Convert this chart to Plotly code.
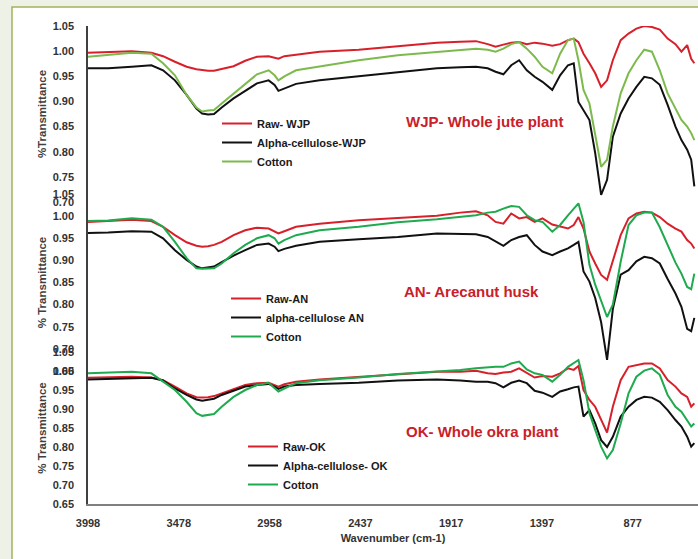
import plotly.graph_objects as go

# ---------------- data ----------------
wavenumber = [3998, 3882, 3747, 3635, 3568, 3500, 3433, 3377, 3344, 3310,
              3276, 3232, 3164, 3097, 3030, 2963, 2929, 2907, 2873, 2806,
              2671, 2447, 2223, 1999, 1865, 1775, 1708, 1663, 1618, 1573,
              1528, 1484, 1439, 1394, 1338, 1293, 1248, 1215, 1188, 1159,
              1125, 1092, 1058, 1024, 991, 946, 901, 856, 811, 767,
              722, 677, 632, 598, 565, 542, 524]

# Panel 1 - WJP (whole jute plant)
raw_wjp = [0.997, 0.999, 1.000, 0.997, 0.990, 0.979, 0.969, 0.964, 0.962, 0.961,
           0.961, 0.964, 0.970, 0.981, 0.989, 0.990, 0.987, 0.985, 0.990, 0.993,
           0.999, 1.003, 1.010, 1.017, 1.019, 1.020, 1.014, 1.009, 1.013, 1.017,
           1.018, 1.014, 1.017, 1.015, 1.011, 1.014, 1.022, 1.025, 1.018, 0.995,
           0.976, 0.956, 0.929, 0.942, 0.982, 1.022, 1.035, 1.045, 1.050, 1.048,
           1.043, 1.025, 1.014, 0.999, 1.012, 0.985, 0.976]
alpha_wjp = [0.966, 0.966, 0.969, 0.972, 0.962, 0.942, 0.913, 0.886, 0.876, 0.874,
             0.875, 0.888, 0.906, 0.921, 0.936, 0.942, 0.933, 0.921, 0.926, 0.935,
             0.942, 0.950, 0.959, 0.966, 0.968, 0.969, 0.966, 0.959, 0.954, 0.972,
             0.982, 0.962, 0.949, 0.939, 0.923, 0.952, 0.972, 0.976, 0.899, 0.883,
             0.863, 0.797, 0.714, 0.744, 0.830, 0.876, 0.906, 0.929, 0.949, 0.946,
             0.933, 0.893, 0.850, 0.823, 0.804, 0.784, 0.731]
cotton_wjp = [0.989, 0.993, 0.997, 0.995, 0.976, 0.952, 0.913, 0.888, 0.880, 0.882,
              0.883, 0.896, 0.916, 0.936, 0.954, 0.962, 0.952, 0.942, 0.950, 0.962,
              0.970, 0.982, 0.992, 0.999, 1.003, 1.005, 1.003, 0.999, 1.005, 1.014,
              1.018, 1.005, 0.989, 0.969, 0.956, 0.995, 1.022, 1.025, 0.982, 0.923,
              0.896, 0.830, 0.770, 0.784, 0.850, 0.916, 0.956, 0.982, 1.003, 0.999,
              0.962, 0.916, 0.886, 0.863, 0.850, 0.837, 0.823]

# Panel 2 - AN (arecanut husk)
raw_an = [0.987, 0.989, 0.992, 0.989, 0.976, 0.957, 0.941, 0.933, 0.931, 0.932,
          0.935, 0.942, 0.957, 0.968, 0.974, 0.972, 0.966, 0.961, 0.966, 0.976,
          0.983, 0.991, 0.996, 1.001, 1.008, 1.011, 1.002, 0.987, 0.983, 1.006,
          0.995, 0.998, 0.987, 0.995, 0.981, 0.976, 0.972, 0.980, 0.998, 0.972,
          0.920, 0.893, 0.867, 0.856, 0.897, 0.957, 0.995, 1.006, 1.010, 1.008,
          0.998, 0.983, 0.972, 0.965, 0.946, 0.938, 0.927]
alpha_an = [0.962, 0.963, 0.966, 0.965, 0.950, 0.923, 0.901, 0.886, 0.882, 0.884,
            0.886, 0.896, 0.911, 0.923, 0.935, 0.938, 0.931, 0.921, 0.926, 0.933,
            0.942, 0.948, 0.953, 0.961, 0.959, 0.959, 0.953, 0.942, 0.933, 0.946,
            0.953, 0.957, 0.935, 0.920, 0.912, 0.920, 0.927, 0.935, 0.942, 0.875,
            0.852, 0.815, 0.760, 0.675, 0.790, 0.868, 0.878, 0.898, 0.908, 0.905,
            0.893, 0.858, 0.825, 0.795, 0.745, 0.740, 0.770]
cotton_an = [0.989, 0.990, 0.995, 0.992, 0.976, 0.942, 0.905, 0.882, 0.881, 0.882,
             0.882, 0.893, 0.916, 0.935, 0.950, 0.957, 0.950, 0.938, 0.946, 0.957,
             0.968, 0.976, 0.986, 0.993, 0.998, 1.002, 1.008, 1.010, 1.017, 1.023,
             1.021, 1.002, 0.991, 0.987, 0.965, 0.980, 1.002, 1.017, 1.029, 0.987,
             0.890, 0.845, 0.807, 0.772, 0.800, 0.897, 0.980, 1.002, 1.008, 1.008,
             0.975, 0.935, 0.895, 0.870, 0.840, 0.835, 0.870]

# Panel 3 - OK (whole okra plant)
raw_ok = [0.982, 0.983, 0.985, 0.983, 0.976, 0.959, 0.941, 0.931, 0.930, 0.931,
          0.934, 0.941, 0.952, 0.963, 0.968, 0.969, 0.963, 0.959, 0.965, 0.972,
          0.978, 0.985, 0.992, 0.998, 0.998, 1.001, 0.994, 0.992, 0.996, 0.998,
          1.007, 0.994, 0.983, 0.987, 0.985, 0.994, 1.007, 1.003, 1.013, 0.950,
          0.924, 0.906, 0.871, 0.838, 0.906, 0.976, 1.011, 1.016, 1.020, 1.020,
          1.007, 0.976, 0.959, 0.941, 0.932, 0.906, 0.915]
alpha_ok = [0.978, 0.979, 0.982, 0.982, 0.975, 0.954, 0.937, 0.925, 0.922, 0.924,
            0.927, 0.937, 0.948, 0.959, 0.963, 0.966, 0.959, 0.953, 0.959, 0.963,
            0.966, 0.969, 0.975, 0.978, 0.975, 0.972, 0.972, 0.968, 0.957, 0.969,
            0.975, 0.968, 0.948, 0.943, 0.932, 0.946, 0.952, 0.957, 0.959, 0.880,
            0.897, 0.862, 0.818, 0.800, 0.827, 0.880, 0.906, 0.924, 0.932, 0.930,
            0.919, 0.897, 0.871, 0.854, 0.827, 0.801, 0.810]
cotton_ok = [0.994, 0.996, 0.998, 0.994, 0.972, 0.950, 0.919, 0.889, 0.882, 0.884,
             0.887, 0.906, 0.932, 0.950, 0.963, 0.969, 0.954, 0.946, 0.954, 0.968,
             0.976, 0.983, 0.992, 0.998, 1.003, 1.007, 1.010, 1.011, 1.011, 1.020,
             1.025, 1.004, 0.994, 0.990, 0.972, 0.990, 1.011, 1.022, 1.029, 0.976,
             0.889, 0.845, 0.801, 0.770, 0.792, 0.862, 0.941, 0.985, 1.001, 1.007,
             0.990, 0.937, 0.906, 0.893, 0.871, 0.854, 0.862]

x_tick_values = [3998, 3478, 2958, 2437, 1917, 1397, 877]
x_tick_labels = ["3998", "3478", "2958", "2437", "1917", "1397", "877"]

panel_titles = ["WJP- Whole jute plant", "AN- Arecanut husk", "OK- Whole okra plant"]
y_titles = ["%Transmittance", "% Transmittance", "% Transmittance"]
series_names = [["Raw- WJP", "Alpha-cellulose-WJP", "Cotton"],
                ["Raw-AN", "alpha-cellulose AN", "Cotton"],
                ["Raw-OK", "Alpha-cellulose- OK", "Cotton"]]
series_values = [[raw_wjp, alpha_wjp, cotton_wjp],
                 [raw_an, alpha_an, cotton_an],
                 [raw_ok, alpha_ok, cotton_ok]]

# ---------------- styling ----------------
W, H = 698, 559
FONT = "Liberation Sans, Arial, sans-serif"
BG = "#eef2e6"
RED = "#d7202a"
BLACK = "#111111"
GREEN_LIGHT = "#7dba4c"
GREEN = "#1faa4f"
series_colors = [[RED, BLACK, GREEN_LIGHT], [RED, BLACK, GREEN], [RED, BLACK, GREEN]]

def px_x(x):
    return x / W

def px_y(y):
    return (H - y) / H

y_axis_ids = ["y", "y2", "y3"]
legend_ids = ["legend", "legend2", "legend3"]
y_domains = [[px_y(202), px_y(26)], [px_y(371), px_y(194)], [px_y(504), px_y(352)]]
y_ranges = [[0.6999, 1.0501], [0.6499, 1.0501], [0.6499, 1.0501]]
legend_pos = [(217, 109), (226, 284), (243, 432)]
note_pos = [(404, 122), (402, 291), (404, 431)]

fig = go.Figure()
for p in range(3):
    for s in range(3):
        fig.add_trace(go.Scatter(
            x=wavenumber, y=series_values[p][s], mode="lines",
            name=series_names[p][s], yaxis=y_axis_ids[p], xaxis="x",
            line=dict(color=series_colors[p][s], width=2),
            legend=legend_ids[p], showlegend=True))

layout = dict(
    width=W, height=H,
    margin=dict(l=0, r=0, t=0, b=0, autoexpand=False),
    paper_bgcolor=BG,
    plot_bgcolor="rgba(0,0,0,0)",
    font=dict(family=FONT, color="#333333"),
    xaxis=dict(domain=[px_x(88), 1.0], range=[3998, 503], anchor="y3",
               automargin=False,
               tickmode="array", tickvals=x_tick_values, ticktext=x_tick_labels,
               showline=True, linecolor="#808080", linewidth=2,
               showgrid=False, zeroline=False,
               ticks="outside", ticklen=8, tickcolor="rgba(0,0,0,0)",
               tickfont=dict(size=11, family=FONT, color="#333333", weight="bold"),
               title=dict(text="Wavenumber (cm-1)", standoff=6,
                          font=dict(size=11, family=FONT, color="#333333", weight="bold"))),
    shapes=[dict(type="rect", xref="paper", yref="paper",
                 x0=px_x(12), x1=1.05, y0=-0.05, y1=px_y(7),
                 fillcolor="white", line=dict(color="#a3b35a", width=1.5),
                 layer="below")],
    annotations=[],
)

for p in range(3):
    key = "yaxis" if p == 0 else "yaxis%d" % (p + 1)
    layout[key] = dict(
        domain=y_domains[p], range=y_ranges[p], anchor="x",
        automargin=False,
        tickmode="linear", tick0=0.65, dtick=0.05, tickformat=".2f",
        showline=True, linecolor="#404040", linewidth=1.5,
        showgrid=False, zeroline=False,
        ticks="outside", ticklen=10, tickcolor="rgba(0,0,0,0)",
        tickfont=dict(size=11, family=FONT, color="#333333", weight="bold"),
        title=dict(text=y_titles[p], standoff=4,
                   font=dict(size=11.5, family=FONT, color="#404040", weight="bold")))
    lx, ly = legend_pos[p]
    layout[legend_ids[p]] = dict(
        x=px_x(lx), y=px_y(ly), xanchor="left", yanchor="top",
        bgcolor="rgba(0,0,0,0)", borderwidth=0,
        font=dict(size=11, family=FONT, color="#1a1a1a", weight="bold"),
        itemwidth=30, tracegroupgap=0)
    nx, ny = note_pos[p]
    layout["annotations"].append(dict(
        text=panel_titles[p], xref="paper", yref="paper",
        x=px_x(nx), y=px_y(ny), xanchor="left", yanchor="middle",
        showarrow=False,
        font=dict(size=15, family=FONT, color="#c9202b", weight="bold")))

fig.update_layout(**layout)
fig.write_html(
    "out.html",
    config={"displayModeBar": False},
    post_script="document.body.style.margin='0px';document.body.style.background='%s';" % BG)
